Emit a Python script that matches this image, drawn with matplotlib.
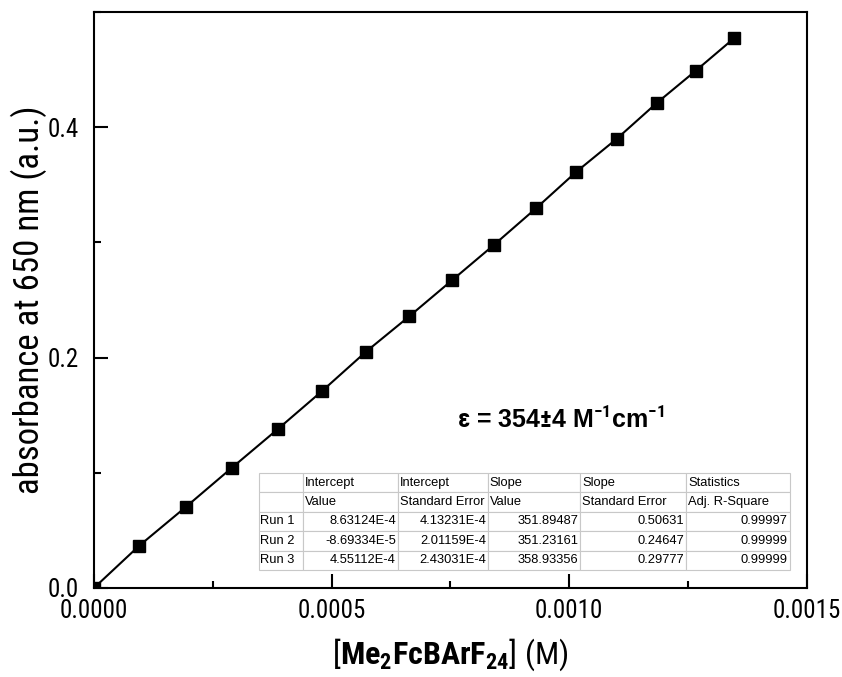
import matplotlib
matplotlib.use("Agg")
import matplotlib.pyplot as plt
from matplotlib.ticker import MultipleLocator, FormatStrFormatter

# concentration (M) and absorbance at 650 nm
conc = [0.0, 0.0000947, 0.0001935, 0.00029, 0.000387, 0.00048, 0.000572, 0.000663,
        0.000753, 0.000842, 0.00093, 0.001014, 0.0011, 0.001184, 0.001266, 0.001346]
absorb = [0.0, 0.0365, 0.0704, 0.1043, 0.138, 0.171, 0.205, 0.2357, 0.267,
          0.298, 0.3296, 0.361, 0.390, 0.421, 0.449, 0.477]

col_head1 = ["", "Intercept", "Intercept", "Slope", "Slope", "Statistics"]
col_head2 = ["", "Value", "Standard Error", "Value", "Standard Error", "Adj. R-Square"]
runs = ["Run 1", "Run 2", "Run 3"]
intercept = ["8.63124E-4", "-8.69334E-5", "4.55112E-4"]
intercept_err = ["4.13231E-4", "2.01159E-4", "2.43031E-4"]
slope = ["351.89487", "351.23161", "358.93356"]
slope_err = ["0.50631", "0.24647", "0.29777"]
adj_r2 = ["0.99997", "0.99999", "0.99999"]

narrow = "Roboto Condensed"

plt.rcParams['font.family'] = ['Liberation Sans', 'DejaVu Sans']
plt.rcParams['mathtext.fontset'] = 'custom'
plt.rcParams['mathtext.rm'] = narrow
plt.rcParams['mathtext.bf'] = narrow + ':bold'

fig = plt.figure(figsize=(8.42, 6.77), dpi=100)
ax = fig.add_axes([0.1116, 0.1315, 0.8468, 0.8508])

ax.plot(conc, absorb, color='black', linewidth=1.5, marker='s', markersize=9,
        markerfacecolor='black', markeredgecolor='black')

ax.set_xlim(0, 0.0015)
ax.set_ylim(0, 0.5)
ax.xaxis.set_major_locator(MultipleLocator(0.0005))
ax.xaxis.set_minor_locator(MultipleLocator(0.00025))
ax.yaxis.set_major_locator(MultipleLocator(0.2))
ax.yaxis.set_minor_locator(MultipleLocator(0.1))
ax.xaxis.set_major_formatter(FormatStrFormatter('%.4f'))
ax.yaxis.set_major_formatter(FormatStrFormatter('%.1f'))
ax.tick_params(which='both', direction='in', top=False, right=False, width=1.5)
ax.tick_params(which='major', length=10, labelsize=18)
ax.tick_params(axis='x', which='major', pad=8)
ax.tick_params(axis='y', which='major', pad=11)
ax.tick_params(which='minor', length=5)
for lab in ax.get_xticklabels() + ax.get_yticklabels():
    lab.set_family(narrow)
for s in ax.spines.values():
    s.set_linewidth(1.5)

ax.set_ylabel('absorbance at 650 nm (a.u.)', fontsize=25, family=narrow, labelpad=0)
ax.set_xlabel(r'[$\mathbf{Me_2FcBArF_{24}}$] (M)', fontsize=23, family=narrow, labelpad=10)

ax.text(0.000982, 0.146,
        r'$\mathbf{\epsilon}$ = 354$\mathbf{\pm}$4 M$^{\mathbf{-1}}$cm$^{\mathbf{-1}}$',
        fontsize=18, fontweight='bold', ha='center', va='center')

cells = [col_head1, col_head2]
for i in range(len(runs)):
    cells.append([runs[i], intercept[i], intercept_err[i], slope[i], slope_err[i], adj_r2[i]])
widths = [44, 95, 90, 92, 106, 104]
tot = float(sum(widths))
tbl = ax.table(cellText=cells, colWidths=[w / tot for w in widths], cellLoc='right',
               bbox=[0.2314, 0.031, 0.7447, 0.169])
tbl.auto_set_font_size(False)
tbl.set_fontsize(9.3)
for (r, c), cell in tbl.get_celld().items():
    cell.set_edgecolor('#c8c8c8')
    cell.set_linewidth(0.8)
    cell.set_facecolor('white')
    cell.PAD = 0.02
    if r < 2 or c == 0:
        cell._loc = 'left'
        cell._text.set_horizontalalignment('left')

fig.savefig('out.png', dpi=100)
